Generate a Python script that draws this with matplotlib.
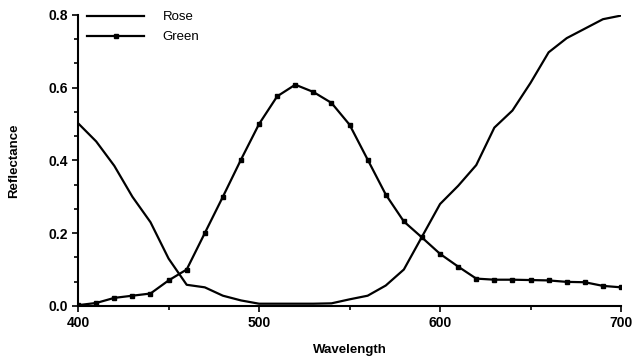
import matplotlib
matplotlib.use("Agg")
import matplotlib.pyplot as plt
from matplotlib.ticker import MultipleLocator, AutoMinorLocator

wavelength = [400, 410, 420, 430, 440, 450, 460, 470, 480, 490, 500, 510, 520, 530, 540,
              550, 560, 570, 580, 590, 600, 610, 620, 630, 640, 650, 660, 670, 680, 690, 700]
rose = [0.502, 0.452, 0.385, 0.300, 0.230, 0.130, 0.058, 0.051, 0.028, 0.015, 0.006, 0.006,
        0.006, 0.006, 0.007, 0.018, 0.028, 0.056, 0.100, 0.190, 0.280, 0.330, 0.387, 0.490,
        0.537, 0.613, 0.697, 0.736, 0.762, 0.788, 0.798]
green = [0.002, 0.008, 0.022, 0.028, 0.034, 0.070, 0.100, 0.200, 0.300, 0.402, 0.500, 0.576,
         0.608, 0.588, 0.558, 0.498, 0.402, 0.306, 0.232, 0.188, 0.143, 0.108, 0.075, 0.072,
         0.072, 0.071, 0.070, 0.066, 0.065, 0.055, 0.051]

plt.rcParams['font.family'] = ['Liberation Sans', 'DejaVu Sans']

fig = plt.figure(figsize=(6.35, 3.62), dpi=100)
ax = fig.add_axes([0.123, 0.155, 0.855, 0.804])

ax.plot(wavelength, rose, color='black', lw=1.6, label='Rose')
ax.plot(wavelength, green, color='black', lw=1.6, marker='s', markersize=3.2, label='Green')

ax.set_xlim(400, 700)
ax.set_ylim(0, 0.8)
ax.xaxis.set_major_locator(MultipleLocator(100))
ax.xaxis.set_minor_locator(AutoMinorLocator(2))
ax.yaxis.set_major_locator(MultipleLocator(0.2))
ax.yaxis.set_minor_locator(AutoMinorLocator(3))
ax.set_yticks([0, 0.2, 0.4, 0.6, 0.8])
ax.set_yticklabels(['0.0', '0.2', '0.4', '0.6', '0.8'])

for s in ['top', 'right']:
    ax.spines[s].set_visible(False)
for s in ['left', 'bottom']:
    ax.spines[s].set_linewidth(1.5)

ax.tick_params(which='both', direction='out', width=1.2)
ax.tick_params(which='major', length=4, labelsize=10)
ax.tick_params(which='minor', length=3)
for lbl in ax.get_xticklabels() + ax.get_yticklabels():
    lbl.set_fontweight('bold')

ax.set_xlabel('Wavelength', fontsize=9.5, fontweight='bold', labelpad=10)
ax.set_ylabel('Reflectance', fontsize=9.5, fontweight='bold', labelpad=20)

ax.legend(loc='upper left', bbox_to_anchor=(0.0, 1.045), frameon=False,
          handlelength=4.3, fontsize=9.5, labelspacing=0.6, handletextpad=1.4,
          borderaxespad=0.3)

fig.savefig('out.png', dpi=100)
